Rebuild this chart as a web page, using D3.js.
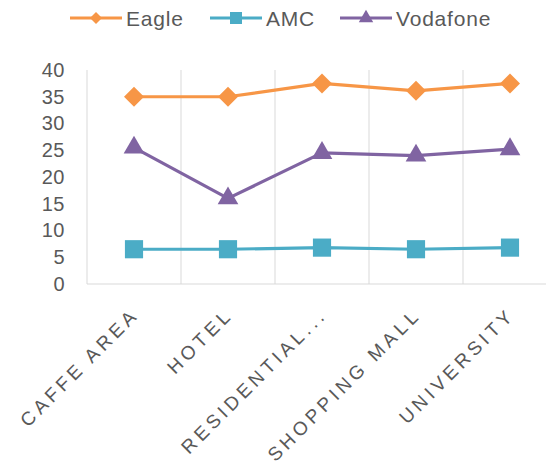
<!DOCTYPE html>
<html><head><meta charset="utf-8">
<script src="https://cdn.jsdelivr.net/npm/d3@7"></script>
<style>body{margin:0;background:#fff;}svg{display:block;font-family:"Liberation Sans",Arial,sans-serif;}</style>
</head><body><svg id="c" width="546" height="466"></svg>
<script>
const categories = ["CAFFE AREA","HOTEL","RESIDENTIAL...","SHOPPING MALL","UNIVERSITY"];
const eagle = [35.0, 35.0, 37.5, 36.1, 37.5];
const amc = [6.5, 6.5, 6.8, 6.5, 6.8];
const vodafone = [25.5, 16.0, 24.5, 24.0, 25.2];
const yTicks = [0,5,10,15,20,25,30,35,40];
const seriesNames = ["Eagle","AMC","Vodafone"];
const colors = ["#F79646","#4BACC6","#8064A2"];

(function(){
const diamond = {draw(ctx, size){ const r = Math.sqrt(size/2); ctx.moveTo(0,-r); ctx.lineTo(r,0); ctx.lineTo(0,r); ctx.lineTo(-r,0); ctx.closePath(); }};
const symbols = [diamond, d3.symbolSquare, d3.symbolTriangle];
const svg = d3.select("#c");
const pl = 87, pt = 70, pb = 284, pr = 557;
const x = d3.scaleBand().domain(categories).range([pl, pr]);
const y = d3.scaleLinear().domain([0,40]).range([pb, pt]);

const bounds = categories.map(c => x(c)).concat([pr]);
svg.append("g").selectAll("line").data(bounds.slice(1)).join("line")
  .attr("x1", d=>d).attr("x2", d=>d).attr("y1", pt).attr("y2", pb)
  .attr("stroke","#d9d9d9").attr("stroke-width",1);
svg.append("line").attr("x1",pl).attr("x2",pl).attr("y1",pt).attr("y2",pb).attr("stroke","#d9d9d9");
svg.append("line").attr("x1",pl).attr("x2",pr).attr("y1",pb).attr("y2",pb).attr("stroke","#d9d9d9");

const yAxis = d3.axisLeft(y).tickValues(yTicks).tickSize(0).tickPadding(22);
const ya = svg.append("g").attr("transform",`translate(${pl},0)`).call(yAxis);
ya.select(".domain").remove();
ya.selectAll("text").attr("font-size",20).attr("letter-spacing",0.5).attr("fill","#595959").attr("font-family","'Liberation Sans',Arial,sans-serif");

svg.append("g").selectAll("text").data(categories).join("text")
  .attr("transform", d => `translate(${x(d)+x.bandwidth()/2+6},${pb+32}) rotate(-45)`)
  .attr("text-anchor","end").attr("font-size",19).attr("letter-spacing",4)
  .attr("fill","#595959").text(d=>d);

const data = [eagle, amc, vodafone];
const line = d3.line().x((d,i)=>x(categories[i])+x.bandwidth()/2).y(d=>y(d));
const sizes = [200, 330, 185];
data.forEach((vals, k) => {
  svg.append("path").attr("d", line(vals)).attr("fill","none")
    .attr("stroke", colors[k]).attr("stroke-width", 3.2).attr("stroke-linejoin","round");
  svg.append("g").selectAll("path").data(vals).join("path")
    .attr("transform",(d,i)=>`translate(${x(categories[i])+x.bandwidth()/2},${y(d)})`)
    .attr("d", d3.symbol().type(symbols[k]).size(sizes[k]))
    .attr("fill", colors[k]);
});

const legendX = [70, 210, 340];
seriesNames.forEach((n,k)=>{
  const g = svg.append("g").attr("transform",`translate(${legendX[k]},18)`);
  g.append("line").attr("x1",0).attr("x2",52).attr("stroke",colors[k]).attr("stroke-width",3.2);
  g.append("path").attr("transform","translate(26,0)").attr("d", d3.symbol().type(symbols[k]).size([72,144,90][k])).attr("fill",colors[k]);
  g.append("text").attr("x",56).attr("y",8).attr("font-size",21).attr("letter-spacing",0.8).attr("fill","#595959").text(n);
});
})();
</script></body></html>
